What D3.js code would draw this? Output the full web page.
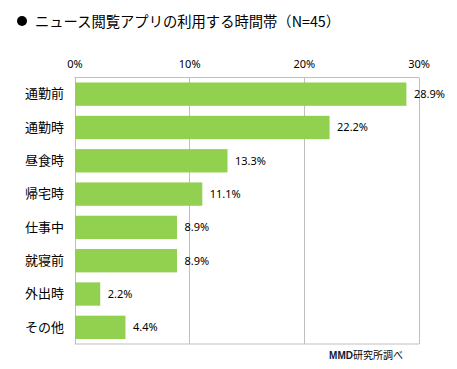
<!DOCTYPE html>
<html>
<head>
<meta charset="utf-8">
<script src="https://cdn.jsdelivr.net/npm/d3@7"></script>
<style>
  body { margin: 0; background: #fff; }
  text { font-family: "Noto Sans CJK JP", "DejaVu Sans", sans-serif; fill: #000; }
</style>
</head>
<body>
<svg id="chart" width="457" height="369"></svg>
<script>
// chart data
var categories = ['通勤前', '通勤時', '昼食時', '帰宅時', '仕事中', '就寝前', '外出時', 'その他'];
var values = [28.9, 22.2, 13.3, 11.1, 8.9, 8.9, 2.2, 4.4];
var tickValues = [0, 10, 20, 30];
var titleText = 'ニュース閲覧アプリの利用する時間帯（N=45）';

var svg = d3.select('#chart');

// plot box (window.top is reserved, so use other names)
var plotLeft = 74.5, plotRight = 418.5, plotTop = 77.5, plotBottom = 344;

var x = d3.scaleLinear().domain([0, 30]).range([plotLeft, plotRight]);
var y = d3.scaleBand().domain(categories).range([plotTop, plotBottom]).paddingInner(0.3).paddingOuter(0.15);

// title
svg.append('circle').attr('cx', 22).attr('cy', 21).attr('r', 5).attr('fill', '#000');
svg.append('text')
    .attr('x', 35).attr('y', 26.5)
    .attr('font-size', 14.3)
    .text(titleText);

// gridlines
svg.append('g').selectAll('line')
    .data(tickValues)
    .enter().append('line')
    .attr('x1', function (d) { return Math.round(x(d)) + 0.5; })
    .attr('x2', function (d) { return Math.round(x(d)) + 0.5; })
    .attr('y1', plotTop).attr('y2', plotBottom)
    .attr('stroke', '#bfbfbf').attr('stroke-width', 1);

// top and bottom border
svg.append('line').attr('x1', plotLeft).attr('x2', plotRight + 0.5).attr('y1', plotTop).attr('y2', plotTop)
    .attr('stroke', '#bfbfbf');
svg.append('line').attr('x1', plotLeft).attr('x2', plotRight + 0.5).attr('y1', plotBottom).attr('y2', plotBottom)
    .attr('stroke', '#bfbfbf');

// top axis labels
var xAxis = d3.axisTop(x).tickValues(tickValues).tickSize(0).tickPadding(0)
    .tickFormat(function (d) { return d + '%'; });
var gx = svg.append('g').attr('transform', 'translate(0,68)').call(xAxis);
gx.select('.domain').remove();
gx.selectAll('text').attr('font-size', 11).attr('fill', '#000')
    .style('font-family', '"Noto Sans", sans-serif');

// bars
svg.append('g').selectAll('rect')
    .data(values)
    .enter().append('rect')
    .attr('x', x(0) + 0.5)
    .attr('y', function (d, i) { return y(categories[i]); })
    .attr('width', function (d) { return x(d) - x(0); })
    .attr('height', y.bandwidth())
    .attr('fill', '#92d050');

// value labels
svg.append('g').selectAll('text')
    .data(values)
    .enter().append('text')
    .attr('x', function (d) { return x(d) + 8; })
    .attr('y', function (d, i) { return y(categories[i]) + y.bandwidth() / 2; })
    .attr('dy', '0.35em')
    .attr('font-size', 11)
    .style('font-family', '"Noto Sans", sans-serif')
    .text(function (d) { return d.toFixed(1) + '%'; });

// category labels
var yAxis = d3.axisLeft(y).tickSize(0).tickPadding(0);
var gy = svg.append('g').attr('transform', 'translate(64,0)').call(yAxis);
gy.select('.domain').remove();
gy.selectAll('text').attr('font-size', 13).attr('fill', '#000')
    .style('font-family', '"Noto Sans CJK JP", sans-serif');

// source note
var src = svg.append('text').attr('x', 403).attr('y', 359).attr('text-anchor', 'end').attr('font-size', 10);
src.append('tspan').attr('font-weight', 'bold').attr('fill', '#0d1b3a').style('font-family', '"Liberation Sans", sans-serif').text('MMD');
src.append('tspan').text('研究所調べ');
</script>
</body>
</html>
